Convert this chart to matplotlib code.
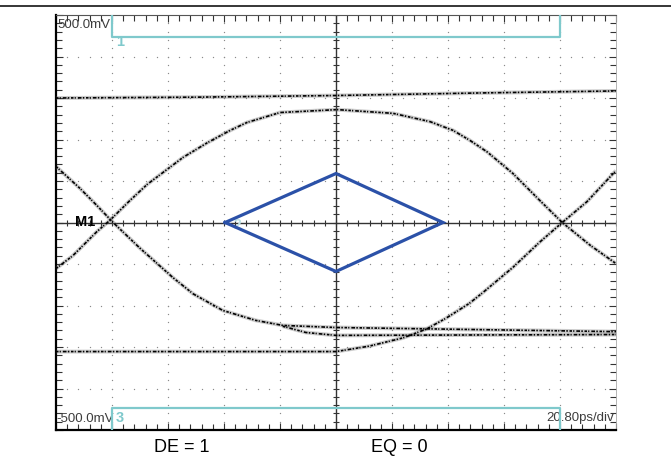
import matplotlib.pyplot as plt
import numpy as np

plt.rcParams['font.family'] = ['Liberation Sans', 'DejaVu Sans']

# screen units: time in divisions (0..10), voltage in divisions (-5..5), 100 mV/div
top_rail_t = [0.0, 2.5, 5.0, 7.5, 10.0]
top_rail_v = [3.0, 3.02, 3.06, 3.12, 3.17]

# trace rising from lower left, over the top of the eye, down to the right
upper_t = [0.0, 0.30, 0.73, 0.96, 1.32, 1.63, 2.27, 2.70, 3.11, 3.41, 4.0, 5.02,
           6.02, 6.68, 7.09, 7.39, 7.70, 8.16, 8.64, 9.04, 9.54, 10.0]
upper_v = [-1.11, -0.80, -0.22, 0.05, 0.53, 0.92, 1.57, 1.92, 2.22, 2.41, 2.65, 2.72,
           2.63, 2.43, 2.22, 1.98, 1.70, 1.18, 0.53, 0.0, -0.55, -0.99]

# trace falling from upper left into the lower flat levels
fall_t = [0.0, 0.43, 0.73, 1.02, 1.50, 2.09, 2.45, 2.98, 3.57, 4.05, 5.0, 7.5, 10.0]
fall_v = [1.35, 0.82, 0.41, 0.0, -0.62, -1.33, -1.72, -2.12, -2.36, -2.48, -2.53, -2.58, -2.63]
fall2_t = [4.05, 4.46, 5.0, 7.5, 10.0]
fall2_v = [-2.50, -2.65, -2.72, -2.71, -2.70]

# bottom rail turning up through the right crossing
lower_t = [0.0, 2.57, 5.0, 5.59, 6.20, 6.61, 6.96, 7.38, 7.63, 8.16, 8.64, 9.04, 9.48, 9.95, 10.0]
lower_v = [-3.11, -3.11, -3.11, -2.98, -2.78, -2.57, -2.31, -1.95, -1.68, -1.08, -0.47, 0.0,
           0.50, 1.18, 1.25]

# eye mask
mask_t = [3.02, 5.0, 6.91, 5.0, 3.02]
mask_v = [0.0, 1.18, 0.0, -1.18, 0.0]

CYAN = '#7fc9cc'
GRAY = '#8a8a8a'

fig = plt.figure(figsize=(6.71, 4.72), dpi=100)
ax = fig.add_axes([56 / 671, 42 / 472, 560 / 671, 415 / 472])
ax.set_xlim(0, 10)
ax.set_ylim(-5, 5)

# graticule dots
fine = np.arange(0, 10.01, 0.2)
for k in range(1, 10):
    if k == 5:
        continue
    ax.scatter(fine, np.full_like(fine, k - 5), s=0.9, color=GRAY, lw=0, zorder=1)
    ax.scatter(np.full_like(fine, k), fine - 5, s=0.9, color=GRAY, lw=0, zorder=1)

# center crosshair with ticks
ax.axhline(0, color='#333333', lw=1.0, zorder=2)
ax.axvline(5, color='#333333', lw=1.0, zorder=2)
ax.plot(fine, np.zeros_like(fine), ls='none', marker='|', ms=5, mew=0.8, color='#333333', zorder=2)
ax.plot(np.full_like(fine, 5), fine - 5, ls='none', marker='_', ms=5, mew=0.8, color='#333333', zorder=2)

# eye traces, drawn as a faint band with an irregular dotted core
for tt, vv in [(top_rail_t, top_rail_v), (upper_t, upper_v), (fall_t, fall_v),
               (fall2_t, fall2_v), (lower_t, lower_v)]:
    ax.plot(tt, vv, color='0.35', lw=2.8, alpha=0.3, zorder=3, solid_capstyle='butt')
    ax.plot(tt, vv, color='black', lw=1.2, ls=(0, (1.5, 0.7, 0.7, 1.2, 2.2, 0.8, 0.9, 1.0)),
            zorder=4)

# mask
ax.plot(mask_t, mask_v, color='#2b51a8', lw=2.3, zorder=5, solid_joinstyle='miter')
ax.text(3.23, -0.07, '2', color='#bfe3e6', fontsize=10, fontweight='bold',
        ha='center', va='center', zorder=4)

# channel boxes
ax.plot([1, 1, 9, 9], [5, 4.46, 4.46, 5], color=CYAN, lw=1.6, zorder=5)
ax.plot([1, 1, 9, 9], [-5, -4.46, -4.46, -5], color=CYAN, lw=1.6, zorder=5)
ax.text(1.14, 4.34, '1', color=CYAN, fontsize=10.5, fontweight='bold', ha='center', va='center')
ax.text(1.14, -4.72, '3', color=CYAN, fontsize=10.5, fontweight='bold', ha='center', va='center')

ax.text(0.03, 4.76, '500.0mV', color='#3c3c3c', fontsize=9.5, ha='left', va='center')
ax.text(0.01, -4.74, '-500.0mV', color='#3c3c3c', fontsize=9.5, ha='left', va='center')
ax.text(9.97, -4.72, '20.80ps/div', color='#3c3c3c', fontsize=9.5, ha='right', va='center')
ax.text(0.52, 0.0, 'M1', color='black', fontsize=10.5, fontweight='bold', ha='center', va='center',
        zorder=6)

# frame ticks
ax.set_xticks(np.arange(0, 11, 1))
ax.set_yticks(np.arange(-5, 6, 1))
ax.set_xticks(fine, minor=True)
ax.set_yticks(fine - 5, minor=True)
ax.tick_params(which='both', direction='in', top=True, right=True, labelbottom=False,
               labelleft=False, color='#333333', width=0.8)
ax.tick_params(which='major', length=5)
ax.tick_params(which='minor', length=4)
ax.spines['left'].set_linewidth(1.6)
ax.spines['bottom'].set_linewidth(1.6)
ax.spines['top'].set_color('#555555')
ax.spines['top'].set_linewidth(0.8)
ax.spines['right'].set_color('#aaaaaa')
ax.spines['right'].set_linewidth(0.6)

# page rule and captions
fig.add_artist(plt.Line2D([0, 1], [1 - 6 / 472, 1 - 6 / 472], color='black', lw=1.1))
fig.text(182 / 671, 24 / 472, 'DE = 1', fontsize=13, ha='center', va='center')
fig.text(399 / 671, 24 / 472, 'EQ = 0', fontsize=13, ha='center', va='center')

fig.savefig('out.png', dpi=100)
